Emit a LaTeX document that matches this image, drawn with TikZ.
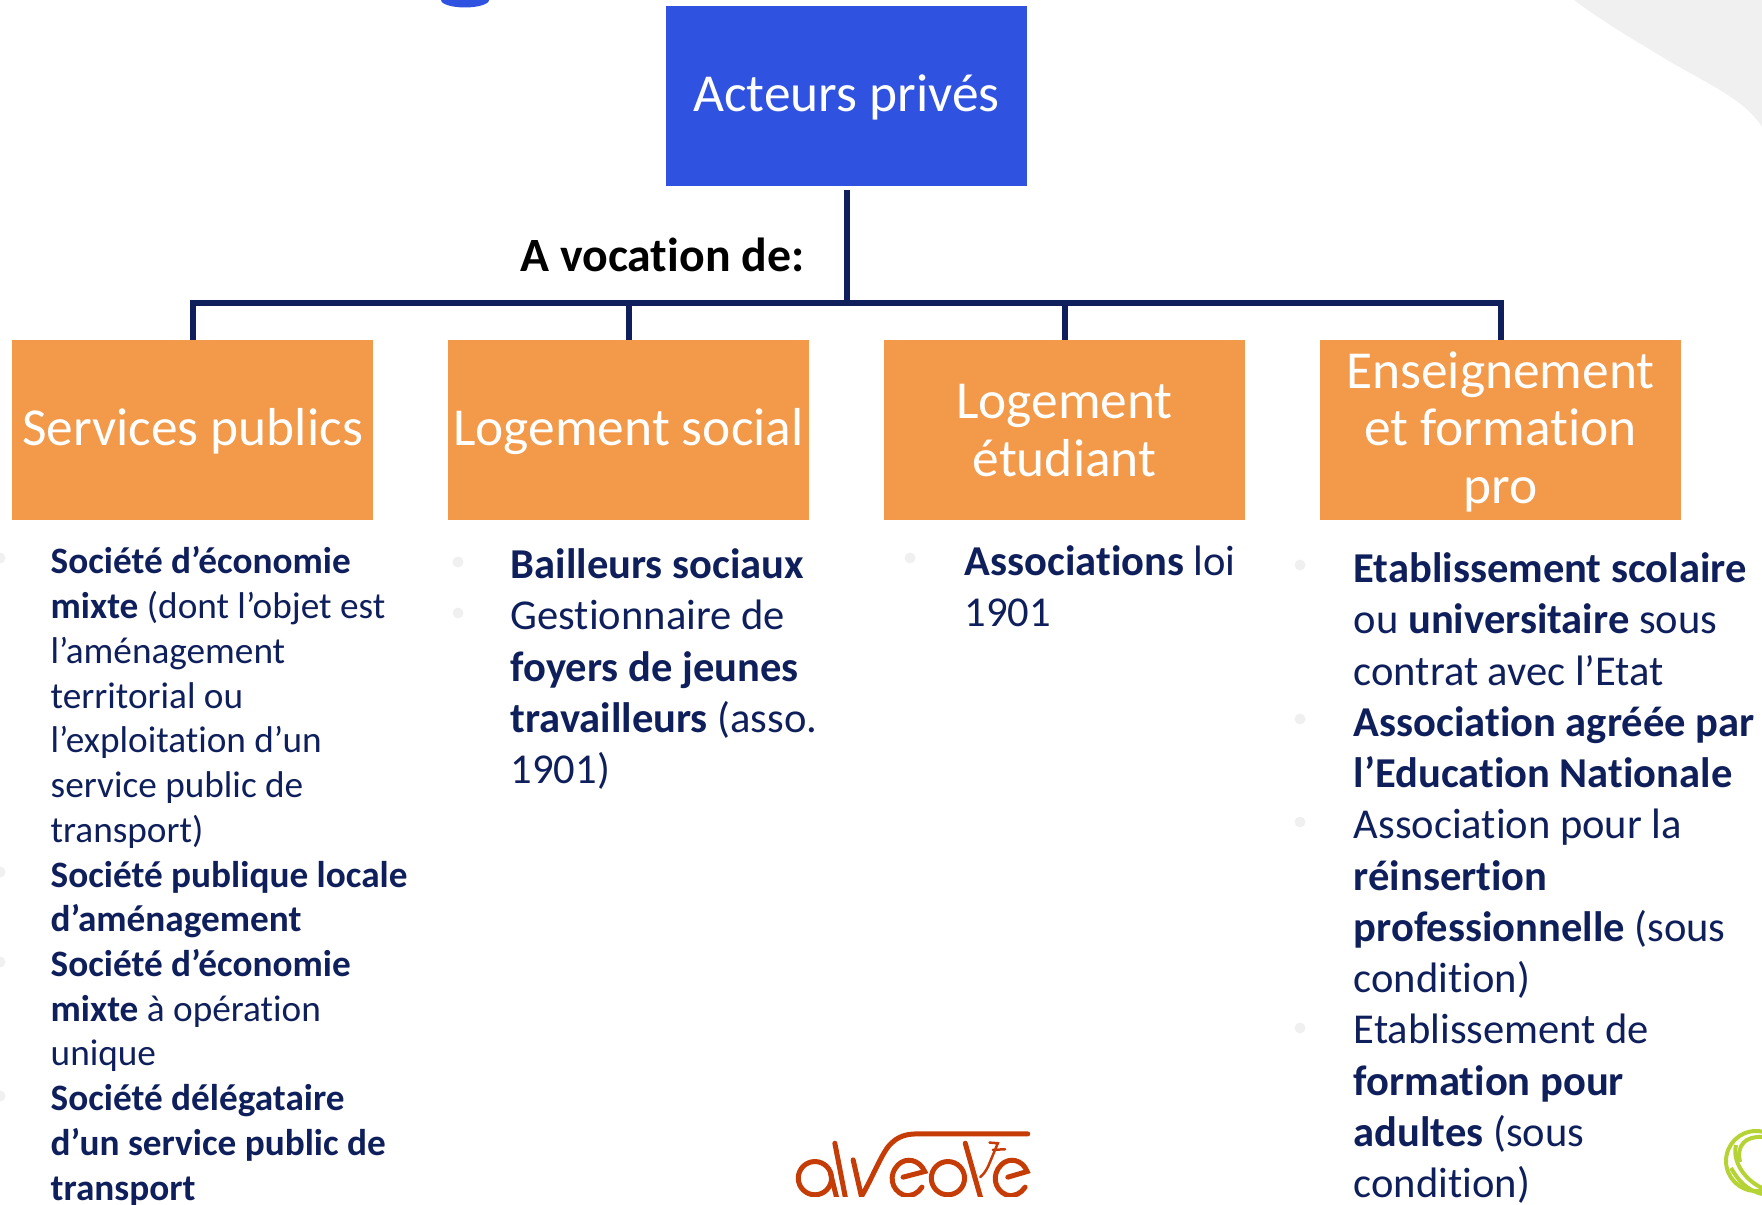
\documentclass[tikz,border=0pt]{standalone}
\usepackage{fontspec}
\setmainfont[RawFeature={-liga}]{Carlito}
\definecolor{boxblue}{HTML}{2F52E0}
\definecolor{boxorange}{HTML}{F2994A}
\definecolor{inknavy}{HTML}{0E1F5B}
\definecolor{logored}{HTML}{C63C06}
\definecolor{logogreen}{HTML}{B5D334}
\definecolor{palegrey}{HTML}{F0F0F0}
\tikzset{
	headbox/.style={fill=#1, text=white, minimum width=3.61cm, minimum height=1.80cm, inner sep=0pt, align=center, text depth=1.8pt, font=\fontsize{15.2}{16.4}\selectfont},
	smalllist/.style={anchor=north west, inner sep=0pt, align=left, text=inknavy, font=\fontsize{10.6}{12.73}\selectfont},
	largelist/.style={anchor=north west, inner sep=0pt, align=left, text=inknavy, font=\fontsize{12.11}{14.58}\selectfont},
	bulletdot/.style={fill=palegrey, draw=none},
	branch/.style={draw=inknavy, line width=0.6mm},
	logoline/.style={draw=logored, line width=0.5mm, line cap=round},
	wreath/.style={draw=logogreen, line width=0.4mm}
}

\begin{document}
\begin{tikzpicture}
	\useasboundingbox (0, 0) rectangle (17.62, -12.05);
	\fill[palegrey] (15.74, 0) .. controls (16.1, -0.27) and (16.4, -0.43) .. (16.67, -0.6) .. controls (17.1, -0.85) and (17.45, -1.0) .. (17.62, -1.27) -- (17.62, 0) -- cycle;
	\begin{scope}
		\clip (0, 0) rectangle (17.62, -12.05);
		\fill[boxblue] (4.65, 0) ellipse (0.24 and 0.075);
	\end{scope}

	\node[headbox=boxblue] (actors) at (8.465, -0.965) {Acteurs privés};
	\node[headbox=boxorange] (services) at (1.925, -4.305) {Services publics};
	\node[headbox=boxorange] (housing) at (6.285, -4.305) {Logement social};
	\node[headbox=boxorange, text depth=0pt] (students) at (10.645, -4.305) {Logement\\étudiant};
	\node[headbox=boxorange] (training) at (15.005, -4.305) {Enseignement\\et formation\\pro};

	\coordinate (bus) at (8.465, -3.03);
	\draw[branch, shorten <=0.03cm] (actors.south) -- (bus);
	\draw[branch] (services.north) |- (bus);
	\draw[branch] (housing.north) |- (bus);
	\draw[branch] (students.north) |- (bus);
	\draw[branch] (training.north) |- (bus);

	\node[anchor=east, inner sep=0pt, font=\bfseries\fontsize{13.6}{16}\selectfont] (vocation) at (8.05, -2.55) {A vocation de:};

	\node[smalllist] (servicelist) at (0.50, -5.46) {\textbf{Société d’économie}\\\textbf{mixte} (dont l’objet est\\l’aménagement\\territorial ou\\l’exploitation d’un\\service public de\\transport)\\\textbf{Société publique locale}\\\textbf{d’aménagement}\\\textbf{Société d’économie}\\\textbf{mixte} à opération\\unique\\\textbf{Société délégataire}\\\textbf{d’un service public de}\\\textbf{transport}};
	\node[largelist] (housinglist) at (5.10, -5.48) {\textbf{Bailleurs sociaux}\\Gestionnaire de\\\textbf{foyers de jeunes}\\\textbf{travailleurs} (asso.\\1901)};
	\node[largelist] (studentlist) at (9.64, -5.445) {\textbf{Associations} loi\\1901};
	\node[largelist] (traininglist) at (13.53, -5.52) {\textbf{Etablissement scolaire}\\ou \textbf{universitaire} sous\\contrat avec l’Etat\\\textbf{Association agréée par}\\\textbf{l’Education Nationale}\\Association pour la\\\textbf{réinsertion}\\\textbf{professionnelle} (sous\\condition)\\Etablissement de\\\textbf{formation pour}\\\textbf{adultes} (sous\\condition)};

	\fill[bulletdot] (0, -5.58) circle (0.055);
	\fill[bulletdot] (0, -8.72) circle (0.055);
	\fill[bulletdot] (0, -9.62) circle (0.055);
	\fill[bulletdot] (0, -10.96) circle (0.055);
	\fill[bulletdot] (4.58, -5.62) circle (0.055);
	\fill[bulletdot] (4.58, -6.13) circle (0.055);
	\fill[bulletdot] (9.10, -5.58) circle (0.055);
	\fill[bulletdot] (13.00, -5.65) circle (0.055);
	\fill[bulletdot] (13.00, -7.19) circle (0.055);
	\fill[bulletdot] (13.00, -8.22) circle (0.055);
	\fill[bulletdot] (13.00, -10.28) circle (0.055);

	\begin{scope}[shift={(7.6, -11)}, x=0.0033333cm, y=-0.0033333cm]
		\clip (90, 20) rectangle (830, 290);
		\draw[logoline] (165, 235) circle (50);
		\draw[logoline] (212, 220) -- (232, 300);
		\draw[logoline] (225, 130) -- (258, 300);
		\draw[logoline] (280, 180) -- (305, 290) .. controls (340, 230) and (370, 150) .. (395, 130) .. controls (415, 110) and (440, 102) .. (470, 102) -- (805, 102);
		\draw[logoline] (430, 232) -- (495, 215) .. controls (480, 180) and (440, 170) .. (415, 195) .. controls (385, 225) and (395, 270) .. (430, 285) .. controls (455, 293) and (475, 280) .. (487, 262);
		\draw[logoline] (565, 235) circle (50);
		\draw[logoline] (617, 130) -- (665, 300);
		\draw[logoline] (745, 232) -- (803, 215) .. controls (790, 180) and (750, 170) .. (725, 195) .. controls (695, 225) and (705, 270) .. (740, 285) .. controls (765, 293) and (785, 280) .. (797, 262);
		\draw[logoline, line width=0.25mm] (690, 128) -- (715, 130) -- (690, 190) .. controls (680, 215) and (670, 225) .. (662, 232);
		\draw[logoline, line width=0.25mm] (700, 150) -- (737, 148);
	\end{scope}

	\begin{scope}
		\clip (17.0, -11.0) rectangle (17.62, -12.05);
		\draw[wreath] (17.56, -11.61) circle (0.30);
		\draw[wreath] (17.36, -11.45) .. controls (17.32, -11.62) and (17.45, -11.80) .. (17.62, -11.88);
		\draw[wreath] (17.40, -11.62) .. controls (17.36, -11.45) and (17.46, -11.36) .. (17.62, -11.37);
		\draw[wreath] (17.31, -11.68) .. controls (17.38, -11.80) and (17.46, -11.90) .. (17.62, -11.94);
	\end{scope}
\end{tikzpicture}
\end{document}
